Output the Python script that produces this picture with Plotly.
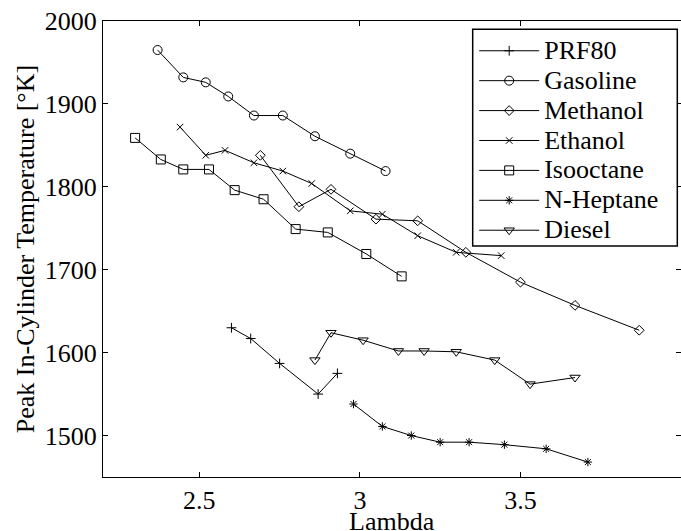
import plotly.graph_objects as go

# ---- data ----
prf80_x = [2.60, 2.66, 2.75, 2.87, 2.93]
prf80_y = [1630, 1617, 1587, 1550, 1575]

gasoline_x = [2.37, 2.45, 2.52, 2.59, 2.67, 2.76, 2.86, 2.97, 3.08]
gasoline_y = [1965, 1932, 1926, 1909, 1886, 1886, 1861, 1840, 1819]

methanol_x = [2.69, 2.81, 2.91, 3.05, 3.18, 3.33, 3.50, 3.67, 3.87]
methanol_y = [1838, 1776, 1797, 1761, 1759, 1721, 1685, 1657, 1627]

ethanol_x = [2.44, 2.52, 2.58, 2.67, 2.76, 2.85, 2.97, 3.07, 3.18, 3.30, 3.44]
ethanol_y = [1872, 1838, 1844, 1829, 1819, 1804, 1771, 1767, 1741, 1721, 1717]

isooctane_x = [2.30, 2.38, 2.45, 2.53, 2.61, 2.70, 2.80, 2.90, 3.02, 3.13]
isooctane_y = [1859, 1833, 1821, 1821, 1796, 1785, 1749, 1745, 1719, 1692]

nheptane_x = [2.98, 3.07, 3.16, 3.25, 3.34, 3.45, 3.58, 3.71]
nheptane_y = [1538, 1511, 1500, 1492, 1492, 1489, 1484, 1468]

diesel_x = [2.86, 2.91, 3.01, 3.12, 3.20, 3.30, 3.42, 3.53, 3.67]
diesel_y = [1591, 1624, 1615, 1602, 1602, 1601, 1591, 1562, 1570]

series_names = ["PRF80", "Gasoline", "Methanol", "Ethanol", "Isooctane", "N-Heptane", "Diesel"]
x_ticks = [2.5, 3, 3.5, 4]
x_tick_labels = ["2.5", "3", "3.5", "4"]
y_ticks = [1500, 1600, 1700, 1800, 1900, 2000]
y_tick_labels = ["1500", "1600", "1700", "1800", "1900", "2000"]
x_title = "Lambda"
y_title = "Peak In-Cylinder Temperature [°K]"

series = [
    (prf80_x, prf80_y, "cross-thin-open", 7),
    (gasoline_x, gasoline_y, "circle-open", 9),
    (methanol_x, methanol_y, "diamond-open", 7.5),
    (ethanol_x, ethanol_y, "x-thin-open", 6.5),
    (isooctane_x, isooctane_y, "square-open", 9),
    (nheptane_x, nheptane_y, "asterisk-open", 7),
    (diesel_x, diesel_y, "triangle-down-open", 9),
]

FONT = "Liberation Serif, Times New Roman, serif"

fig = go.Figure()
for name, (xs, ys, sym, sz) in zip(series_names, series):
    fig.add_trace(go.Scatter(
        x=xs, y=ys, mode="lines+markers",
        name="<span style='font-size:26px'>%s</span>" % name,
        line=dict(color="black", width=1),
        marker=dict(symbol=sym, size=sz, color="black",
                    line=dict(color="black", width=1)),
    ))

# legend frame (white box with black border, drawn above the data)
fig.add_shape(
    type="rect", xref="paper", yref="paper",
    x0=0.6396, x1=0.9936, y0=0.5066, y1=0.9818,
    line=dict(color="black", width=1.5), fillcolor="white", layer="above",
)

# x-axis title placed as an annotation below the tick labels
fig.add_annotation(
    text=x_title, xref="paper", yref="paper", x=0.5, y=0,
    xanchor="center", yanchor="middle", yshift=-44, showarrow=False,
    font=dict(family=FONT, size=26, color="black"),
)

fig.update_layout(
    width=681, height=531,
    margin=dict(l=103, r=0, t=21, b=54),
    paper_bgcolor="white", plot_bgcolor="white",
    font=dict(family=FONT, size=26, color="black"),
    showlegend=True,
    legend=dict(
        x=0.6422, y=0.9785, xanchor="left", yanchor="top",
        bgcolor="rgba(0,0,0,0)", borderwidth=0,
        font=dict(family=FONT, size=20.7, color="black"),
        itemwidth=60, tracegroupgap=0,
    ),
    xaxis=dict(
        range=[2.2, 4.0], tickvals=x_ticks, ticktext=x_tick_labels,
        showline=True, linecolor="black", linewidth=1, mirror="ticks",
        ticks="inside", ticklen=5, tickcolor="black", tickwidth=1,
        showgrid=False, zeroline=False, automargin=False,
        tickfont=dict(family=FONT, size=26, color="black"),
    ),
    yaxis=dict(
        range=[1450, 2000], tickvals=y_ticks, ticktext=y_tick_labels,
        showline=True, linecolor="black", linewidth=1, mirror="ticks",
        ticks="inside", ticklen=5, tickcolor="black", tickwidth=1,
        showgrid=False, zeroline=False, automargin=False,
        tickfont=dict(family=FONT, size=26, color="black"),
        title=dict(text=y_title,
                   font=dict(family=FONT, size=26, color="black"), standoff=2),
    ),
)

fig.write_html("out.html")
